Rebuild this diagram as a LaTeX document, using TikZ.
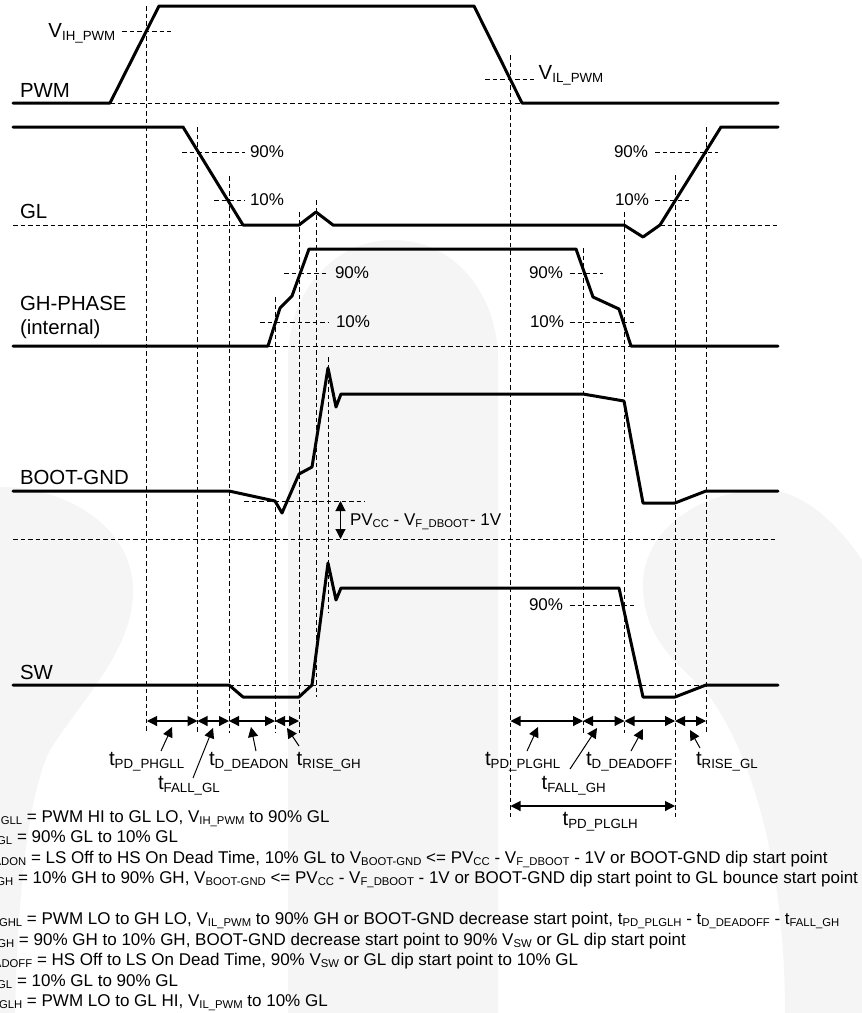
\documentclass[tikz,border=0pt]{standalone}
\usepackage{fontspec}
\setmainfont{Liberation Sans}
\usetikzlibrary{arrows.meta}
\definecolor{wm}{HTML}{F5F5F5}
\newcommand{\bigt}[1]{{\fontsize{20.4pt}{22pt}\selectfont #1}}
\newcommand{\sbA}[1]{\raisebox{-3pt}{\fontsize{13.3pt}{14pt}\selectfont #1}}
\newcommand{\sbB}[1]{\raisebox{-2.5pt}{\fontsize{11.3pt}{12pt}\selectfont #1}}
\newcommand{\tA}[1]{\bigt{t}\sbA{#1}}
\newcommand{\tB}[1]{t\sbB{#1}}
\newcommand{\vB}[1]{V\sbB{#1}}
\tikzset{
  x=1pt,y=-1pt,
  wave/.style={line width=3pt,line cap=round,line join=round},
  guide/.style={line width=1pt,dash pattern=on 4.5pt off 3pt},
  span/.style={line width=1.1pt,{Triangle[length=10pt,width=10pt]}-{Triangle[length=10pt,width=10pt]},shorten <=0pt,shorten >=0pt},
  pointer/.style={line width=1pt,-{Triangle[length=10pt,width=10pt]}},
  lab/.style={anchor=base west,inner sep=0pt,outer sep=0pt,font=\fontsize{20.4pt}{22pt}\selectfont},
  pct/.style={anchor=base west,inner sep=0pt,outer sep=0pt,font=\fontsize{17pt}{19pt}\selectfont},
}
\begin{document}
\begin{tikzpicture}
\useasboundingbox (0,0) rectangle (862,1013);
% watermark
\fill[white] (0,0) rectangle (862,1013);
\fill[wm] (288,1013) -- (288,360) .. controls (288,290) and (335,240) .. (393,240) .. controls (455,240) and (498,295) .. (498,360) -- (498,1013) -- cycle;
\fill[wm] (0,487) .. controls (70,487) and (133,530) .. (133,590) .. controls (133,650) and (85,695) .. (50,750) .. controls (30,790) and (18,880) .. (15,1013) -- (0,1013) -- cycle;
\fill[wm] (862,560) .. controls (835,520) and (800,490) .. (765,490) .. controls (700,490) and (643,530) .. (643,585) .. controls (643,640) and (680,665) .. (707,693) .. controls (750,750) and (785,860) .. (785,1013) -- (862,1013) -- cycle;
% guides vertical
\draw[guide] (146.5,6) -- (146.5,733);
\draw[guide] (197.5,127) -- (197.5,733);
\draw[guide] (229,176) -- (229,733);
\draw[guide] (275,297) -- (275,733);
\draw[guide] (299,212) -- (299,733);
\draw[guide] (316,200) -- (316,697);
\draw[guide] (328,357) -- (328,613);
\draw[guide] (510,55) -- (510,818);
\draw[guide] (583,248) -- (583,733);
\draw[guide] (624,212) -- (624,733);
\draw[guide] (675,175) -- (675,819);
\draw[guide] (706,127) -- (706,733);
% guides horizontal
\draw[guide] (122,31) -- (171,31);
\draw[guide] (110,103) -- (522,103);
\draw[guide] (485,79) -- (534,79);
\draw[guide] (182,152) -- (245,152);
\draw[guide] (655,152) -- (718,152);
\draw[guide] (214,200) -- (245,200);
\draw[guide] (655,200) -- (689,200);
\draw[guide] (13,225) -- (243,225);
\draw[guide] (660,225) -- (778,225);
\draw[guide] (284,273) -- (327,273);
\draw[guide] (570,273) -- (603,273);
\draw[guide] (260,322) -- (329,322);
\draw[guide] (570,322) -- (634,322);
\draw[guide] (268,346) -- (631,346);
\draw[guide] (244,501) -- (365,501);
\draw[guide] (13,539) -- (778,539);
\draw[guide] (570,605) -- (634,605);
\draw[guide] (229,685) -- (706,685);
% waveforms
\draw[wave] (13,103) -- (110,103) -- (159,6) -- (474,6) -- (522,103) -- (778,103);
\draw[wave] (13,127) -- (183,127) -- (243,225) -- (299,225) -- (316,212) -- (333,225) -- (624,225) -- (643,237) -- (660,225) -- (721,127) -- (778,127);
\draw[wave] (13,346) -- (268,346) -- (280,308) -- (292,296) -- (309,249) -- (576,249) -- (593,297) -- (619,309) -- (631,346) -- (778,346);
\draw[wave] (13,491) -- (229,491) -- (275,501) -- (282,513) -- (299,474) -- (312,467) -- (328,368) -- (336,407) -- (341,394) -- (583,394) -- (624,401) -- (643,503) -- (675,503) -- (706,491) -- (778,491);
\draw[wave] (13,685) -- (229,685) -- (243,697) -- (299,697) -- (312,685) -- (328,563) -- (336,600) -- (341,588) -- (619,588) -- (643,697) -- (675,697) -- (706,685) -- (778,685);
% signal names
\node[lab] (pwm) at (20,97) {PWM};
\node[lab] (gl) at (20,218) {GL};
\node[lab] (gh) at (20,310) {GH-PHASE};
\node[lab] (ghint) at (20,334) {(internal)};
\node[lab] (boot) at (20,484) {BOOT-GND};
\node[lab] (sw) at (20,679) {SW};
\node[lab] (vih) at (48.5,37) {V\sbA{IH\_PWM}};
\node[lab] (vil) at (538.7,79) {V\sbA{IL\_PWM}};
% percentages
\node[pct] (a1) at (250,157) {90\%};
\node[pct] (a2) at (250,205) {10\%};
\node[pct] (a3) at (614,157) {90\%};
\node[pct] (a4) at (615,205) {10\%};
\node[pct] (a5) at (335,278) {90\%};
\node[pct] (a6) at (336,327) {10\%};
\node[pct] (a7) at (529,278) {90\%};
\node[pct] (a8) at (530,327) {10\%};
\node[pct] (a9) at (529,610) {90\%};
\node[pct] (pv) at (350,525) {PV\sbB{CC} - \vB{F\_DBOOT}\hspace{-3.5pt} - 1V};
% timing spans
\coordinate (s0) at (147,721); \coordinate (s1) at (197.5,721); \coordinate (s2) at (229,721); \coordinate (s3) at (275,721); \coordinate (s4) at (299,721);
\coordinate (r0) at (510.5,721); \coordinate (r1) at (583,721); \coordinate (r2) at (624.5,721); \coordinate (r3) at (675,721); \coordinate (r4) at (706,721);
\coordinate (g0) at (510.5,806); \coordinate (g1) at (675,806);
\coordinate (d0) at (340.5,501); \coordinate (d1) at (340.5,539);
\draw[span] (s0) -- (s1);
\draw[span] (s1) -- (s2);
\draw[span] (s2) -- (s3);
\draw[span] (s3) -- (s4);
\draw[span] (r0) -- (r1);
\draw[span] (r1) -- (r2);
\draw[span] (r2) -- (r3);
\draw[span] (r3) -- (r4);
\draw[span] (g0) -- (g1);
\draw[span] (d0) -- (d1);
% timing labels
\node[lab] (t1) at (109,765) {\tA{PD\_PHGLL}};
\node[lab] (t2) at (158,789) {\tA{FALL\_GL}};
\node[lab] (t3) at (209,765) {\tA{D\_DEADON}};
\node[lab] (t4) at (296.7,765) {\tA{RISE\_GH}};
\node[lab] (t5) at (485,765) {\tA{PD\_PLGHL}};
\node[lab] (t6) at (541.7,789) {\tA{FALL\_GH}};
\node[lab] (t7) at (586,765) {\tA{D\_DEADOFF}};
\node[lab] (t8) at (696,765) {\tA{RISE\_GL}};
\node[lab] (t9) at (562.7,825) {\tA{PD\_PLGLH}};
% pointers
\coordinate (p1a) at (161,751); \coordinate (p1b) at (172,727);
\coordinate (p2a) at (193,778); \coordinate (p2b) at (213,728);
\coordinate (p3a) at (256,751); \coordinate (p3b) at (251,727);
\coordinate (p4a) at (299,746); \coordinate (p4b) at (287,728);
\coordinate (p5a) at (527,751); \coordinate (p5b) at (538,727);
\coordinate (p6a) at (570,769); \coordinate (p6b) at (597,728);
\coordinate (p7a) at (631,751); \coordinate (p7b) at (643,729);
\coordinate (p8a) at (700,748); \coordinate (p8b) at (690,730);
\draw[pointer] (p1a) -- (p1b);
\draw[pointer] (p2a) -- (p2b);
\draw[pointer] (p3a) -- (p3b);
\draw[pointer] (p4a) -- (p4b);
\draw[pointer] (p5a) -- (p5b);
\draw[pointer] (p6a) -- (p6b);
\draw[pointer] (p7a) -- (p7b);
\draw[pointer] (p8a) -- (p8b);
% legend
\node[pct] (l1) at (27,822) {\llap{\tB{PD\_PHGLL} }= PWM HI to GL LO, \vB{IH\_PWM} to 90\% GL};
\node[pct] (l2) at (17,842) {\llap{\tB{FALL\_GL} }= 90\% GL to 10\% GL};
\node[pct] (l3) at (31,863) {\llap{\tB{D\_DEADON} }= LS Off to HS On Dead Time, 10\% GL to \vB{BOOT-GND} <= PV\sbB{CC} - \vB{F\_DBOOT} - 1V or BOOT-GND dip start point};
\node[pct] (l4) at (18,883) {\llap{\tB{RISE\_GH} }= 10\% GH to 90\% GH, \vB{BOOT-GND} <= PV\sbB{CC} - \vB{F\_DBOOT} - 1V or BOOT-GND dip start point to GL bounce start point};
\node[pct] (l5) at (27,924) {\llap{\tB{PD\_PLGHL} }= PWM LO to GH LO, \vB{IL\_PWM} to 90\% GH or BOOT-GND decrease start point, \tB{PD\_PLGLH} - \tB{D\_DEADOFF} - \tB{FALL\_GH}};
\node[pct] (l6) at (19,945) {\llap{\tB{FALL\_GH} }= 90\% GH to 10\% GH, BOOT-GND decrease start point to 90\% \vB{SW} or GL dip start point};
\node[pct] (l7) at (37,965) {\llap{\tB{D\_DEADOFF} }= HS Off to LS On Dead Time, 90\% \vB{SW} or GL dip start point to 10\% GL};
\node[pct] (l8) at (17,986) {\llap{\tB{RISE\_GL} }= 10\% GL to 90\% GL};
\node[pct] (l9) at (27,1006) {\llap{\tB{PD\_PLGLH} }= PWM LO to GL HI, \vB{IL\_PWM} to 10\% GL};
\end{tikzpicture}
\end{document}
